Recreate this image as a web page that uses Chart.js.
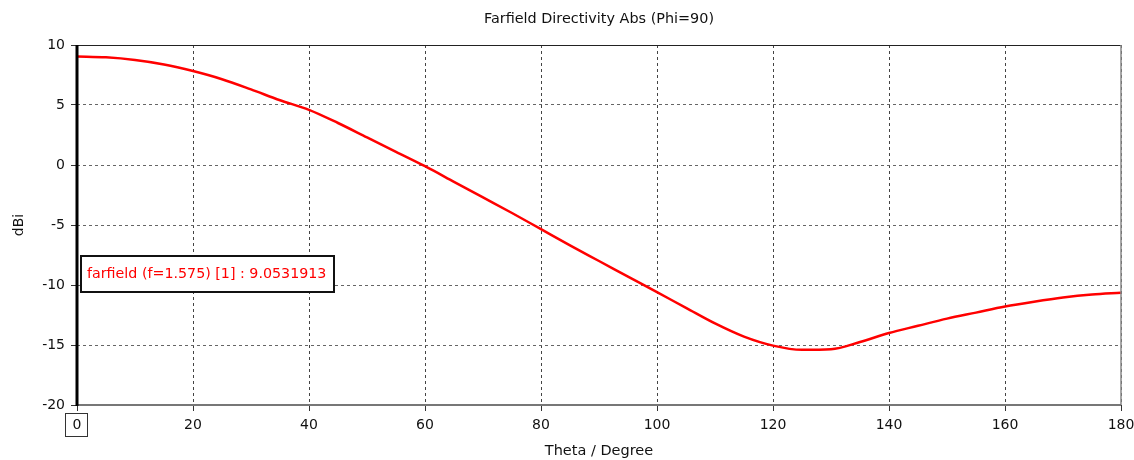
<!DOCTYPE html>
<html>
<head>
<meta charset="utf-8">
<script src="https://cdn.jsdelivr.net/npm/chart.js@4/dist/chart.umd.min.js"></script>
<style>
  html, body { margin: 0; padding: 0; background: #ffffff; }
  #wrap { width: 1134px; height: 460px; position: relative; }
</style>
</head>
<body>
<div id="wrap"><canvas id="c" width="1134" height="460"></canvas></div>
<script>
// ---- data ----
const thetaDeg = [0, 5, 10, 15, 20, 25, 30, 35, 40, 45, 50, 55, 60, 65, 70, 75, 80, 85, 90,
                  95, 100, 105, 110, 115, 120, 125, 130, 135, 140, 145, 150, 155, 160, 165, 170, 175, 180];
const directivityDbi = [9.05, 8.97, 8.75, 8.38, 7.83, 7.15, 6.3, 5.4, 4.6, 3.5, 2.3, 1.1, -0.1, -1.4, -2.7, -4.0, -5.35, -6.7, -8.0,
                        -9.3, -10.6, -11.9, -13.2, -14.3, -15.05, -15.4, -15.35, -14.75, -14.0, -13.4, -12.8, -12.3, -11.8, -11.4, -11.05, -10.8, -10.65];
const xTickValues = [0, 20, 40, 60, 80, 100, 120, 140, 160, 180];
const yTickValues = [-20, -15, -10, -5, 0, 5, 10];
const chartTitle = 'Farfield Directivity Abs (Phi=90)';
const xAxisTitle = 'Theta / Degree';
const yAxisTitle = 'dBi';
const seriesLabel = 'farfield (f=1.575) [1] : 9.0531913';

const FONT = "'DejaVu Sans', Verdana, sans-serif";

const framePlugin = {
  id: 'frame',
  afterDraw(chart) {
    const {ctx, chartArea: a, scales} = chart;
    ctx.save();
    ctx.setLineDash([]);
    // title, centred over the plot area
    ctx.fillStyle = '#111';
    ctx.font = '14.4px ' + FONT;
    ctx.textAlign = 'center';
    ctx.textBaseline = 'middle';
    ctx.fillText(chartTitle, (a.left + a.right) / 2, 19);

    // top border
    ctx.strokeStyle = '#222'; ctx.lineWidth = 1;
    ctx.beginPath(); ctx.moveTo(a.left, a.top + 0.5); ctx.lineTo(a.right, a.top + 0.5); ctx.stroke();
    // right border
    ctx.strokeStyle = '#888'; ctx.lineWidth = 1.5;
    ctx.beginPath(); ctx.moveTo(a.right, a.top); ctx.lineTo(a.right, a.bottom); ctx.stroke();
    // bottom border
    ctx.strokeStyle = '#777'; ctx.lineWidth = 2;
    ctx.beginPath(); ctx.moveTo(a.left, a.bottom); ctx.lineTo(a.right, a.bottom); ctx.stroke();
    // left thick axis
    ctx.strokeStyle = '#000'; ctx.lineWidth = 3;
    ctx.beginPath(); ctx.moveTo(a.left, a.top); ctx.lineTo(a.left, a.bottom + 1); ctx.stroke();

    // box around the "0" tick label
    const x0 = scales.x.getPixelForValue(xTickValues[0]);
    ctx.strokeStyle = '#333'; ctx.lineWidth = 1;
    ctx.strokeRect(x0 - 11.5, a.bottom + 8.5, 22, 23);

    // series label box
    const bx = a.left + 4, by = a.top + 211, bw = 253, bh = 36;
    ctx.fillStyle = '#fff';
    ctx.fillRect(bx, by, bw, bh);
    ctx.strokeStyle = '#111'; ctx.lineWidth = 2;
    ctx.strokeRect(bx, by, bw, bh);
    let size = 15;
    do {
      ctx.font = size + 'px ' + FONT;
      size -= 0.25;
    } while (ctx.measureText(seriesLabel).width > 241 && size > 8);
    ctx.fillStyle = '#ff0000';
    ctx.textBaseline = 'middle';
    ctx.textAlign = 'left';
    ctx.fillText(seriesLabel, bx + 6, by + bh / 2);
    ctx.restore();
  }
};

new Chart(document.getElementById('c'), {
  type: 'line',
  data: {
    datasets: [{
      label: seriesLabel,
      data: thetaDeg.map((t, i) => ({x: t, y: directivityDbi[i]})),
      borderColor: '#ff0000',
      borderWidth: 2.5,
      pointRadius: 0,
      fill: false,
      cubicInterpolationMode: 'monotone'
    }]
  },
  options: {
    responsive: false,
    animation: false,
    devicePixelRatio: 1,
    layout: { padding: { left: 0, right: 13, top: 45, bottom: 0 } },
    plugins: {
      legend: { display: false },
      tooltip: { enabled: false },
      title: { display: false }
    },
    scales: {
      x: {
        type: 'linear',
        min: 0, max: 180,
        afterBuildTicks: s => { s.ticks = xTickValues.map(v => ({value: v})); },
        afterFit: s => { s.height = 55; s.paddingRight = 0; s.paddingLeft = 0; },
        ticks: { color: '#111', font: { family: FONT, size: 14 }, padding: 6, maxRotation: 0 },
        grid: { color: '#444', lineWidth: 1, tickLength: 6, tickColor: '#333', tickBorderDash: [] },
        border: { display: false, dash: [3, 3] },
        title: { display: true, text: xAxisTitle, color: '#111', font: { family: FONT, size: 14.5 }, padding: { top: 0, bottom: 0 } }
      },
      y: {
        type: 'linear',
        min: -20, max: 10,
        afterBuildTicks: s => { s.ticks = yTickValues.map(v => ({value: v})); },
        afterFit: s => { s.width = 77; s.paddingTop = 0; s.paddingBottom = 0; },
        ticks: { color: '#111', font: { family: FONT, size: 14 }, padding: 6 },
        grid: { color: '#666', lineWidth: 1, tickLength: 6, tickColor: '#333', tickBorderDash: [] },
        border: { display: false, dash: [3, 3] },
        title: { display: true, text: yAxisTitle, color: '#111', font: { family: FONT, size: 14 }, padding: { top: 11, bottom: 0 } }
      }
    }
  },
  plugins: [framePlugin]
});
</script>
</body>
</html>
